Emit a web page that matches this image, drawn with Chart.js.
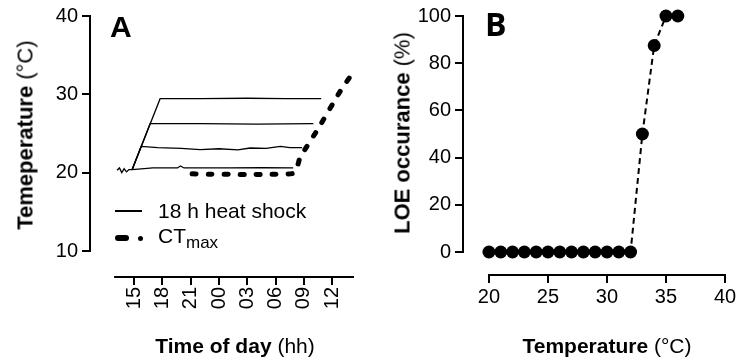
<!DOCTYPE html>
<html>
<head>
<meta charset="utf-8">
<script src="https://cdn.jsdelivr.net/npm/chart.js@4/dist/chart.umd.min.js"></script>
<style>
  body { margin: 0; background: #fff; }
  #wrap { position: relative; width: 739px; height: 362px; overflow: hidden;
          font-family: "Liberation Sans", Arial, sans-serif; color: #000; }
  canvas { position: absolute; top: 0; }
  .t { position: absolute; white-space: nowrap; font-size: 21px; line-height: 21px; }
  .t b { font-weight: bold; }
  .rot { transform: translate(-50%, -50%) rotate(-90deg); font-size: 22px; }
  .mid { transform: translate(-50%, -50%); }
  .letter { position: absolute; font-weight: bold; line-height: 1; }
  .sw { position: absolute; background: #000; }
</style>
</head>
<body>
<div id="wrap">
  <canvas id="chartA" width="370" height="362" style="left:0"></canvas>
  <canvas id="chartB" width="369" height="362" style="left:370px"></canvas>

  <div class="letter" style="left:110px;top:12px;font-size:30px;">A</div>
  <div class="letter" style="left:485px;top:8px;font-size:32px;font-family:'Open Sans',sans-serif;">B</div>

  <div class="t rot" style="left:25px;top:135px;"><b>Temeperature</b> (°C)</div>
  <div class="t mid" style="left:235px;top:345px;"><b>Time of day</b> (hh)</div>
  <div class="t rot" style="left:402px;top:133px;"><b>LOE occurance</b> (%)</div>
  <div class="t mid" style="left:607px;top:345px;"><b>Temperature</b> (°C)</div>

  <div class="sw" style="left:115px;top:210px;width:27px;height:1.5px;"></div>
  <div class="t" style="left:158px;top:200px;">18 h heat shock</div>
  <div class="sw" style="left:115px;top:235px;width:14px;height:6px;border-radius:3px;"></div>
  <div class="sw" style="left:138px;top:236px;width:5px;height:5px;border-radius:50%;"></div>
  <div class="t" style="left:158px;top:225px;">CT<span style="font-size:17px;position:relative;top:5px;">max</span></div>
</div>

<script>
// ---- Panel A: temperature traces (hours since midnight of day 1) ----
var shock1Time = [13.2, 13.45, 13.7, 13.95, 14.2, 14.45, 14.8, 17.0, 19.6, 19.9, 20.3, 25.0, 28.5, 31.86];
var shock1Temp = [20.3, 20.6, 20.0, 20.5, 20.1, 20.4, 20.4, 20.6, 20.6, 20.85, 20.6, 20.6, 20.65, 20.6];
var shock2Time = [14.8, 15.75, 17.5, 20.0, 22.0, 24.0, 26.0, 27.3, 29.0, 30.5, 31.5, 32.8];
var shock2Temp = [20.4, 23.35, 23.2, 23.1, 22.95, 23.05, 22.9, 23.15, 23.1, 23.35, 23.2, 23.2];
var shock3Time = [14.8, 16.7, 22.0, 28.0, 34.0];
var shock3Temp = [20.4, 26.25, 26.25, 26.2, 26.25];
var shock4Time = [14.8, 17.76, 22.0, 27.0, 31.0, 34.83];
var shock4Temp = [20.4, 29.45, 29.45, 29.5, 29.45, 29.45];
var ctTime = [21.15, 23.0, 25.0, 27.0, 29.0, 31.86, 32.3, 32.6, 34.5, 36.85, 38.1];
var ctTemp = [19.85, 19.8, 19.8, 19.75, 19.8, 19.9, 20.8, 21.95, 25.6, 30.4, 32.6];

var aTickVals = [15, 18, 21, 24, 27, 30, 33, 36];
var aTickLabels = ['15', '18', '21', '00', '03', '06', '09', '12'];
var aYTicks = [10, 20, 30, 40];

// ---- Panel B: LOE occurrence vs temperature ----
var tempB = [20, 21, 22, 23, 24, 25, 26, 27, 28, 29, 30, 31, 32, 33, 34, 35, 36];
var loeB = [0, 0, 0, 0, 0, 0, 0, 0, 0, 0, 0, 0, 0, 50, 87.5, 100, 100];
var bXTicks = [20, 25, 30, 35, 40];
var bYTicks = [0, 20, 40, 60, 80, 100];

function pts(xs, ys) {
  return xs.map(function(x, i) { return { x: x, y: ys[i] }; });
}

// prism-style axes: lines only span the labelled range, detached at the corner
var offsetAxes = {
  id: 'offsetAxes',
  afterDraw: function(chart, args, opts) {
    var ctx = chart.ctx, a = chart.chartArea;
    var xs = chart.scales.x, ys = chart.scales.y;
    ctx.save();
    ctx.strokeStyle = '#000';
    ctx.lineWidth = 2;
    ctx.lineCap = 'square';
    ctx.beginPath();
    ctx.moveTo(a.left, ys.getPixelForValue(opts.y[0]));
    ctx.lineTo(a.left, ys.getPixelForValue(opts.y[1]));
    ctx.moveTo(xs.getPixelForValue(opts.x[0]), a.bottom);
    ctx.lineTo(xs.getPixelForValue(opts.x[1]), a.bottom);
    ctx.stroke();
    ctx.restore();
  }
};

var font = { family: '"Liberation Sans", Arial, sans-serif', size: 20 };
var tickGrid = { drawOnChartArea: false, drawTicks: true, tickLength: 8, color: '#000', lineWidth: 2 };

function axis(min, max, vals, labels, rot, size, horiz) {
  return {
    type: 'linear', min: min, max: max,
    border: { display: false },
    grid: tickGrid,
    afterBuildTicks: function(s) { s.ticks = vals.map(function(v) { return { value: v }; }); },
    afterFit: function(s) { if (horiz) s.height = size; else s.width = size; },
    ticks: {
      color: '#000', font: font, padding: horiz ? 2 : 4,
      autoSkip: false, minRotation: rot, maxRotation: rot,
      callback: function(v) {
        var i = vals.indexOf(v);
        return labels ? labels[i] : String(v);
      }
    }
  };
}

var thin = { borderColor: '#000', borderWidth: 1.3, pointRadius: 0, fill: false, tension: 0 };

new Chart(document.getElementById('chartA'), {
  type: 'line',
  data: {
    datasets: [
      Object.assign({ data: pts(shock1Time, shock1Temp) }, thin),
      Object.assign({ data: pts(shock2Time, shock2Temp) }, thin),
      Object.assign({ data: pts(shock3Time, shock3Temp) }, thin),
      Object.assign({ data: pts(shock4Time, shock4Temp) }, thin),
      { data: pts(ctTime, ctTemp), borderColor: '#000', borderWidth: 5, borderDash: [4, 12],
        borderCapStyle: 'round', pointRadius: 0, fill: false, tension: 0.2, clip: false }
    ]
  },
  options: {
    responsive: false, animation: false, devicePixelRatio: 1,
    layout: { padding: { top: 16, right: 17, left: 0, bottom: 0 } },
    plugins: { legend: { display: false }, tooltip: { enabled: false },
               offsetAxes: { x: [12.99, 38.2], y: [10, 40] } },
    scales: {
      x: axis(10.33, 38.2, aTickVals, aTickLabels, 90, 85, true),
      y: axis(6.68, 40, aYTicks, null, 0, 90, false)
    }
  },
  plugins: [offsetAxes]
});

new Chart(document.getElementById('chartB'), {
  type: 'line',
  data: {
    datasets: [{
      data: pts(tempB, loeB), borderColor: '#000', borderWidth: 2, borderDash: [6, 4],
      pointRadius: 6.5, pointBackgroundColor: '#000', pointBorderColor: '#000', pointBorderWidth: 0,
      fill: false, tension: 0, clip: false
    }]
  },
  options: {
    responsive: false, animation: false, devicePixelRatio: 1,
    layout: { padding: { top: 16, right: 14, left: 0, bottom: 0 } },
    plugins: { legend: { display: false }, tooltip: { enabled: false },
               offsetAxes: { x: [20, 40], y: [0, 100] } },
    scales: {
      x: axis(17.8, 40, bXTicks, null, 0, 87, true),
      y: axis(-9.75, 100, bYTicks, null, 0, 93, false)
    }
  },
  plugins: [offsetAxes]
});
</script>
</body>
</html>
